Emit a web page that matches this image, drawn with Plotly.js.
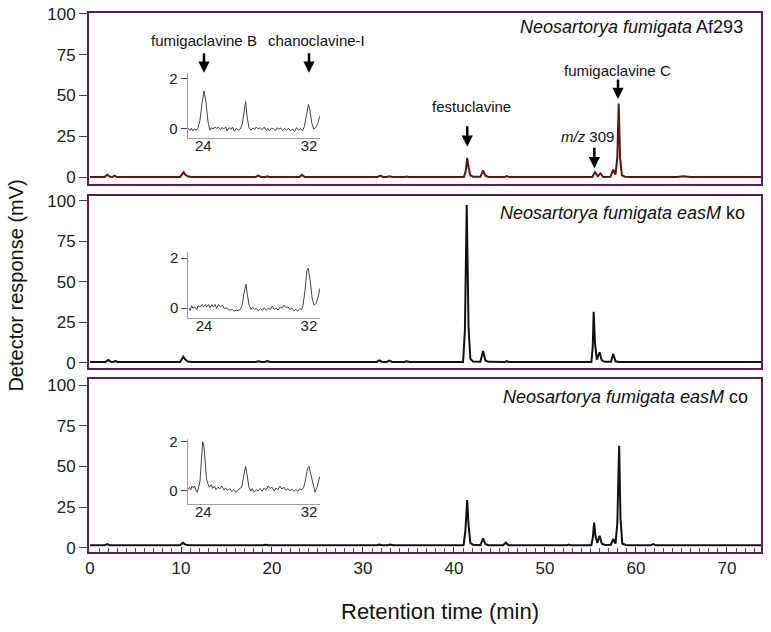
<!DOCTYPE html>
<html><head><meta charset="utf-8">
<script src="https://cdn.plot.ly/plotly-3.0.1.min.js"></script>
<style>html,body{margin:0;padding:0;background:#fff}#chart{width:771px;height:632px}</style>
</head><body><div id="chart"></div><script>
// ---- Main chromatograms (retention time in min, detector response in mV) ----
const af293Time = [0,1.6,1.9,2.2,2.45,2.7,2.95,9.9,10.1,10.3,10.5,10.8,11.2,18.2,18.5,18.8,19.3,19.5,19.7,23.0,23.3,23.6,31.6,31.9,32.2,32.6,32.9,33.2,34.6,34.8,35.0,41.1,41.3,41.45,41.6,41.8,42.1,42.9,43.2,43.45,43.8,45.6,45.8,46.0,55.2,55.5,55.8,56.1,56.4,57.2,57.5,57.75,57.95,58.1,58.25,58.45,58.8,59.5,64.5,65.2,66,73.8];
const af293Resp = [0,0,1.4,0.2,0,0.8,0,0,1.5,3.0,1.3,0.3,0,0,0.8,0,0,0.4,0,0,1.3,0,0,0.8,0,0,0.5,0,0,0.3,0,0,4,11.8,6,1,0.2,0.1,4.0,0.8,0,0,0.5,0,0,3.0,0.5,2.2,0,0.2,4.5,1.5,12,45,12,1.0,0.2,0,0,0.4,0,0];

const koTime = [0,1.7,2.0,2.3,2.55,2.8,3.05,9.9,10.1,10.25,10.45,10.75,11.2,18.2,18.5,18.8,19.2,19.5,19.8,23.1,23.4,23.7,31.5,31.8,32.1,32.6,32.9,33.2,34.5,34.8,35.1,41.0,41.2,41.4,41.6,41.8,42.1,42.9,43.2,43.45,43.8,45.6,45.8,46.0,52.4,52.6,52.8,55.1,55.25,55.35,55.5,55.7,56.0,56.25,56.6,57.25,57.5,57.75,58.2,64.5,65.2,66,73.8];
const koResp = [0.6,0.6,1.8,0.7,0.6,1.2,0.6,0.6,2.5,3.9,2.2,0.9,0.6,0.6,1.1,0.6,0.6,1.2,0.6,0.6,0.9,0.6,0.6,1.6,0.6,0.6,1.4,0.6,0.6,1.1,0.6,0.6,20,97.3,22,2.5,0.9,0.8,7.4,1.5,0.7,0.6,1.1,0.6,0.6,0.9,0.6,0.6,10,31.6,12,2,6.6,1.5,0.7,0.8,5.5,1.0,0.6,0.6,1.0,0.6,0.6];

const coTime = [0,1.6,1.9,2.2,9.9,10.2,10.5,10.9,19.0,19.3,19.6,23.0,23.3,23.6,31.5,31.8,32.1,32.7,33.0,33.3,41.05,41.25,41.45,41.6,41.8,42.1,42.9,43.2,43.45,43.8,45.4,45.7,46.0,52.4,52.6,52.8,55.1,55.25,55.4,55.55,55.75,56.0,56.25,56.6,57.25,57.5,57.75,57.95,58.15,58.3,58.5,58.9,59.6,61.6,61.9,62.2,64.5,65.2,66,73.8];
const coResp = [1.5,1.5,2.3,1.5,1.5,3.0,1.9,1.5,1.5,1.8,1.5,1.5,1.9,1.5,1.5,2.0,1.5,1.5,2.0,1.5,1.5,10,29.3,14,3,1.8,1.6,5.8,2.2,1.6,1.5,3.1,1.6,1.5,1.9,1.5,1.6,6,15.4,7,3,7.4,2.5,1.7,1.9,5.5,2.5,15,62.7,18,2.5,1.7,1.5,1.5,2.2,1.5,1.5,1.9,1.5,1.5];

// ---- Inset zooms (22.8 - 32.8 min, mV) ----
const insetAfTime = [22.85,23.0,23.1,23.2,23.3,23.45,23.6,23.75,23.9,24.05,24.2,24.35,24.5,24.6,24.75,24.9,25.0,25.15,25.3,25.4,25.55,25.7,25.8,25.95,26.1,26.2,26.35,26.5,26.65,26.8,26.95,27.1,27.2,27.3,27.45,27.6,27.75,27.9,28.0,28.15,28.3,28.45,28.6,28.75,28.9,29.0,29.15,29.3,29.45,29.6,29.7,29.85,30.0,30.15,30.3,30.45,30.6,30.75,30.9,31.05,31.2,31.35,31.5,31.65,31.8,31.95,32.05,32.2,32.35,32.5,32.65,32.8];
const insetAfResp = [0.02,-0.05,0.03,-0.08,0.0,-0.05,0.05,0.35,1.0,1.5,1.05,0.3,-0.05,0.05,0.0,0.08,0.02,0.07,-0.03,0.06,0.0,0.08,-0.08,0.05,-0.02,0.07,-0.1,0.02,-0.06,0.0,0.2,0.85,1.08,0.55,0.05,-0.05,0.04,-0.02,0.08,0.0,0.05,-0.03,0.07,-0.05,0.02,-0.08,0.03,0.0,-0.06,0.05,-0.02,0.04,-0.07,0.02,-0.05,0.03,-0.08,0.0,-0.1,0.05,-0.05,0.02,-0.08,0.1,0.55,0.97,0.8,0.25,0.0,0.05,0.2,0.5];

const insetKoTime = [22.85,22.95,23.05,23.15,23.3,23.45,23.55,23.7,23.85,23.95,24.1,24.2,24.35,24.45,24.6,24.7,24.85,24.95,25.1,25.25,25.4,25.55,25.7,25.85,26.0,26.15,26.3,26.45,26.6,26.75,26.9,27.05,27.2,27.3,27.45,27.6,27.7,27.85,28.0,28.15,28.3,28.45,28.6,28.75,28.9,29.05,29.2,29.35,29.5,29.65,29.8,29.95,30.1,30.25,30.4,30.55,30.7,30.85,31.0,31.15,31.3,31.45,31.55,31.7,31.85,31.95,32.1,32.25,32.4,32.55,32.7,32.85];
const insetKoResp = [0.0,-0.1,0.1,0.0,0.05,-0.05,0.1,0.05,0.15,0.05,0.15,0.05,0.15,0.02,0.15,0.05,0.15,0.0,0.15,0.05,0.12,-0.02,0.0,-0.05,-0.08,-0.05,-0.12,-0.08,-0.1,-0.05,0.1,0.6,0.96,0.55,0.1,-0.05,0.05,-0.05,0.0,-0.1,-0.02,-0.08,0.02,-0.08,0.0,-0.05,0.08,-0.05,0.0,-0.08,0.05,0.0,0.12,0.02,0.05,-0.05,0.0,-0.1,-0.05,-0.12,-0.02,-0.05,0.1,0.7,1.5,1.6,1.1,0.4,0.12,0.2,0.45,0.8];

const insetCoTime = [22.85,22.95,23.05,23.15,23.25,23.35,23.45,23.55,23.65,23.75,23.85,23.95,24.05,24.15,24.25,24.35,24.45,24.6,24.7,24.85,24.95,25.1,25.25,25.4,25.55,25.7,25.85,26.0,26.15,26.3,26.45,26.6,26.75,26.9,27.05,27.2,27.3,27.45,27.6,27.7,27.85,28.0,28.15,28.3,28.45,28.6,28.75,28.9,29.05,29.2,29.35,29.5,29.65,29.8,29.95,30.1,30.25,30.4,30.55,30.7,30.85,31.0,31.15,31.3,31.45,31.6,31.75,31.9,32.0,32.15,32.3,32.45,32.6,32.8];
const insetCoResp = [0.05,0.15,0.05,0.2,0.12,0.2,0.0,-0.05,0.15,0.4,1.2,2.0,1.8,1.0,0.45,0.3,0.15,0.25,0.1,0.2,0.05,0.15,0.08,0.2,0.05,0.12,0.02,0.1,-0.02,0.05,-0.05,0.0,0.1,0.15,0.6,1.0,0.7,0.15,0.0,0.1,-0.05,0.05,0.0,0.1,-0.02,0.12,0.05,0.2,0.1,0.15,0.0,0.12,0.05,0.2,0.08,0.15,0.02,0.1,0.0,0.08,-0.02,0.05,0.0,0.08,0.05,0.15,0.5,0.95,1.0,0.6,0.2,-0.05,0.15,0.57];

const mainYTicks = [0, 25, 50, 75, 100];
const mainXTicks = [0, 10, 20, 30, 40, 50, 60, 70];
const insetYTicks = [0, 2];
const insetXTicks = [24, 32];

const FONT = 'Liberation Sans, Arial, Helvetica, sans-serif';
const FRAME = '#5b1f5a';

const traces = [
  {x: af293Time, y: af293Resp, xaxis: 'x', yaxis: 'y', type: 'scatter', mode: 'lines', line: {color: '#5a1414', width: 2}, hoverinfo: 'skip'},
  {x: koTime, y: koResp, xaxis: 'x2', yaxis: 'y2', type: 'scatter', mode: 'lines', line: {color: '#111', width: 2}, hoverinfo: 'skip'},
  {x: coTime, y: coResp, xaxis: 'x3', yaxis: 'y3', type: 'scatter', mode: 'lines', line: {color: '#111', width: 2}, hoverinfo: 'skip'},
  {x: insetAfTime, y: insetAfResp, xaxis: 'x4', yaxis: 'y4', type: 'scatter', mode: 'lines', line: {color: '#444', width: 1}, hoverinfo: 'skip'},
  {x: insetKoTime, y: insetKoResp, xaxis: 'x5', yaxis: 'y5', type: 'scatter', mode: 'lines', line: {color: '#444', width: 1}, hoverinfo: 'skip'},
  {x: insetCoTime, y: insetCoResp, xaxis: 'x6', yaxis: 'y6', type: 'scatter', mode: 'lines', line: {color: '#444', width: 1}, hoverinfo: 'skip'}
];

function mainX(anchor, showLabels) {
  const a = {domain: [0, 1], range: [-0.11, 73.74], anchor: anchor, showline: true, mirror: true,
    linecolor: FRAME, linewidth: 2, showgrid: false, zeroline: false, fixedrange: true,
    tickvals: mainXTicks, showticklabels: showLabels, ticks: showLabels ? 'inside' : '',
    ticklen: 5, tickcolor: '#333', tickwidth: 1,
    tickfont: {family: FONT, size: 17, color: '#222'}};
  if (showLabels) a.minor = {dtick: 1, ticks: 'inside', ticklen: 4, tickcolor: '#555', tickwidth: 1};
  return a;
}
function mainY(anchor, domain, range) {
  return {domain: domain, range: range, anchor: anchor, showline: true, mirror: true,
    linecolor: FRAME, linewidth: 2, showgrid: false, zeroline: false, fixedrange: true,
    tickvals: mainYTicks, ticks: 'outside', ticklen: 8, tickcolor: '#444', tickwidth: 1,
    tickfont: {family: FONT, size: 17, color: '#222'}};
}
function insetX(anchor, domain, range) {
  return {domain: domain, range: range, anchor: anchor, showline: true, linecolor: '#a0a0a0', linewidth: 1,
    showgrid: false, zeroline: false, fixedrange: true, tickvals: insetXTicks, ticks: '',
    ticklabelstandoff: -6,
    tickfont: {family: FONT, size: 15, color: '#222'}};
}
function insetY(anchor, domain, range) {
  return {domain: domain, range: range, anchor: anchor, showline: true, linecolor: '#a0a0a0', linewidth: 1,
    showgrid: false, zeroline: false, fixedrange: true, tickvals: insetYTicks, ticks: 'outside', ticklen: 6,
    tickcolor: '#444', tickwidth: 1, tickfont: {family: FONT, size: 15, color: '#222'}};
}

function txt(text, x, y, size, xanchor) {
  return {text: text, x: x, y: y, xref: 'paper', yref: 'paper', showarrow: false,
    xanchor: xanchor || 'center', yanchor: 'middle', font: {family: FONT, size: size, color: '#111'}};
}
function arrow(x, y, len) {
  return {text: '', x: x, y: y, xref: 'paper', yref: 'paper', showarrow: true, ax: 0, ay: -len,
    arrowhead: 2, arrowsize: 0.9, arrowwidth: 2.5, arrowcolor: '#000', standoff: 0, startstandoff: 0};
}

const layout = {
  width: 771, height: 632,
  margin: {l: 89, r: 10, t: 13, b: 80},
  paper_bgcolor: '#fff', plot_bgcolor: 'rgba(0,0,0,0)',
  showlegend: false,
  font: {family: FONT, color: '#111'},
  xaxis: mainX('y', false),
  yaxis: mainY('x', [0.6827, 1], [-4.3, 100.6]),
  xaxis2: mainX('y2', false),
  yaxis2: mainY('x2', [0.3414, 0.6605], [-3.1, 102.9]),
  xaxis3: mainX('y3', true),
  yaxis3: mainY('x3', [0, 0.321], [-2.6, 103.7]),
  xaxis4: insetX('y4', [0.1469, 0.3438], [22.82, 32.83]),
  yaxis4: insetY('x4', [0.7675, 0.8881], [-0.37, 2.2]),
  xaxis5: insetX('y5', [0.1478, 0.3438], [22.8, 32.85]),
  yaxis5: insetY('x5', [0.4347, 0.5571], [-0.38, 2.26]),
  xaxis6: insetX('y6', [0.1469, 0.3438], [22.82, 32.83]),
  yaxis6: insetY('x6', [0.0891, 0.2096], [-0.53, 2.11]),
  annotations: [
    txt('<i>Neosartorya fumigata</i> Af293', 0.9762, 0.974, 18, 'right'),
    txt('<i>Neosartorya fumigata easM</i> ko', 0.9787, 0.629, 18, 'right'),
    txt('<i>Neosartorya fumigata easM</i> co', 0.9836, 0.2876, 18, 'right'),
    txt('fumigaclavine B', 0.1711, 0.9486, 15),
    txt('chanoclavine-I', 0.3378, 0.9486, 15),
    txt('festuclavine', 0.5685, 0.8262, 15),
    txt('<i>m/z</i> 309', 0.7411, 0.7705, 15),
    txt('fumigaclavine C', 0.7865, 0.8942, 15),
    arrow(0.1711, 0.8893, 21),
    arrow(0.3274, 0.8893, 21),
    arrow(0.5629, 0.752, 22),
    arrow(0.752, 0.7119, 22),
    arrow(0.7872, 0.8404, 21),
    txt('Retention time (min)', 0.523, -0.1095, 22),
    Object.assign(txt('Detector response (mV)', -0.110, 0.4944, 20), {textangle: -90})
  ]
};

Plotly.newPlot('chart', traces, layout, {staticPlot: true, displayModeBar: false});
</script></body></html>
